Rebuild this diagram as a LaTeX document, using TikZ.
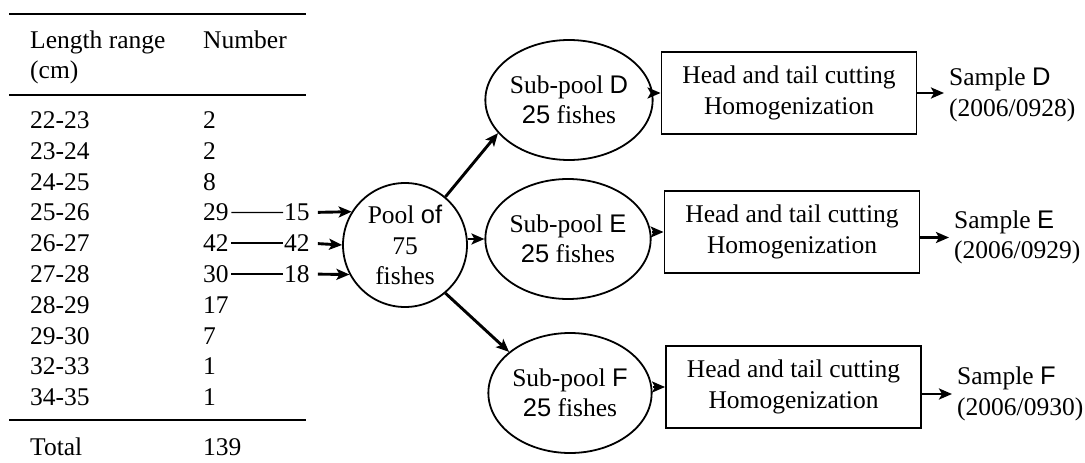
\documentclass[tikz,border=0pt]{standalone}
\usepackage{fontspec}
\setmainfont{Liberation Serif}
\setsansfont{Liberation Sans}
\usetikzlibrary{arrows.meta,shapes.geometric}
\begin{document}
\begin{tikzpicture}[x=1pt,y=-1pt,
  every node/.style={font=\fontsize{25.5}{30.5}\selectfont},
  cell/.style={anchor=base west, inner sep=0pt},
  tabrule/.style={line width=2.6pt},
  thinline/.style={line width=1.4pt},
  arr/.style={line width=2.9pt,-{Stealth[length=13pt,width=11pt,inset=3pt]}},
  pooln/.style={circle, draw, line width=1.8pt, minimum size=124pt, inner sep=0pt, align=center},
  subn/.style={ellipse, draw, line width=1.8pt, minimum width=146pt, minimum height=120pt, inner sep=0pt, align=center},
  procn/.style={rectangle, draw, line width=1.9pt, minimum width=255pt, minimum height=82pt, inner sep=0pt, align=center},
  samplen/.style={anchor=west, inner sep=0pt, align=left}]
\useasboundingbox (0,0) rectangle (1085,463);

% table
\draw[tabrule] (9,14) -- (306,14);
\draw[tabrule] (9,95) -- (306,95);
\draw[tabrule] (9,420) -- (306,420);
\node[cell] (h1) at (30,48.5) {Length range};
\node[cell] (h2) at (30,78) {(cm)};
\node[cell] (h3) at (203,48.5) {Number};
\foreach \r/\n [count=\i] in {22-23/2,23-24/2,24-25/8,25-26/29,26-27/42,27-28/30,28-29/17,29-30/7,32-33/1,34-35/1}{
  \node[cell] (r\i) at (30,{128.4+(\i-1)*30.8}) {\r};
  \node[cell] (v\i) at (203,{128.4+(\i-1)*30.8}) {\n};
}
\node[cell] (tot) at (30,455) {Total};
\node[cell] (totv) at (203,455) {139};

% selected numbers
\node[cell] (m1) at (284,{128.4+3*30.8}) {15};
\node[cell] (m2) at (284,{128.4+4*30.8}) {42};
\node[cell] (m3) at (284,{128.4+5*30.8}) {18};
\draw[thinline, shorten <=2.5pt, shorten >=1pt] (v4.east) -- (m1.west);
\draw[thinline, shorten <=2.5pt, shorten >=1pt] (v5.east) -- (m2.west);
\draw[thinline, shorten <=2.5pt, shorten >=1pt] (v6.east) -- (m3.west);

% pool
\node[pooln] (pool) at (405,245) {Pool {\sffamily of}\\75\\fishes};
\draw[arr, shorten <=8pt] (m1.east) -- (pool.148);
\draw[arr, shorten <=8pt] (m2.east) -- (pool.west);
\draw[arr, shorten <=8pt] (m3.east) -- (pool.208);

% sub-pools
\node[subn] (subD) at (569,100) {Sub-pool {\sffamily D}\\{\sffamily 25} fishes};
\node[subn] (subE) at (568,239) {Sub-pool {\sffamily E}\\{\sffamily 25} fishes};
\node[subn] (subF) at (570,393) {Sub-pool {\sffamily F}\\{\sffamily 25} fishes};
\draw[arr] (pool.50) -- (subD.205);
\draw[arr] (pool.east |- subE.west) -- (subE.west);
\draw[arr] (pool.310) -- (subF.146);

% processing boxes
\node[procn] (boxD) at (789,93) {Head and tail cutting\\Homogenization};
\node[procn] (boxE) at (792,232) {Head and tail cutting\\Homogenization};
\node[procn] (boxF) at (793.5,387) {Head and tail cutting\\Homogenization};
\draw[arr] (boxD.west -| subD.east) -- (boxD.west);
\draw[arr] (boxE.west -| subE.east) -- (boxE.west);
\draw[arr] (boxF.west -| subF.east) -- (boxF.west);

% samples
\node[samplen] (sD) at (949,95) {Sample {\sffamily D}\\(2006/0928)};
\node[samplen] (sE) at (954,237.5) {Sample {\sffamily E}\\(2006/0929)};
\node[samplen] (sF) at (957,394) {Sample {\sffamily F}\\(2006/0930)};
\draw[arr, shorten >=5pt] (boxD.east) -- (boxD.east -| sD.west);
\draw[arr, shorten >=5pt] (boxE.east |- sE.west) -- (sE.west);
\draw[arr, shorten >=5pt] (boxF.east |- sF.west) -- (sF.west);
\end{tikzpicture}
\end{document}
